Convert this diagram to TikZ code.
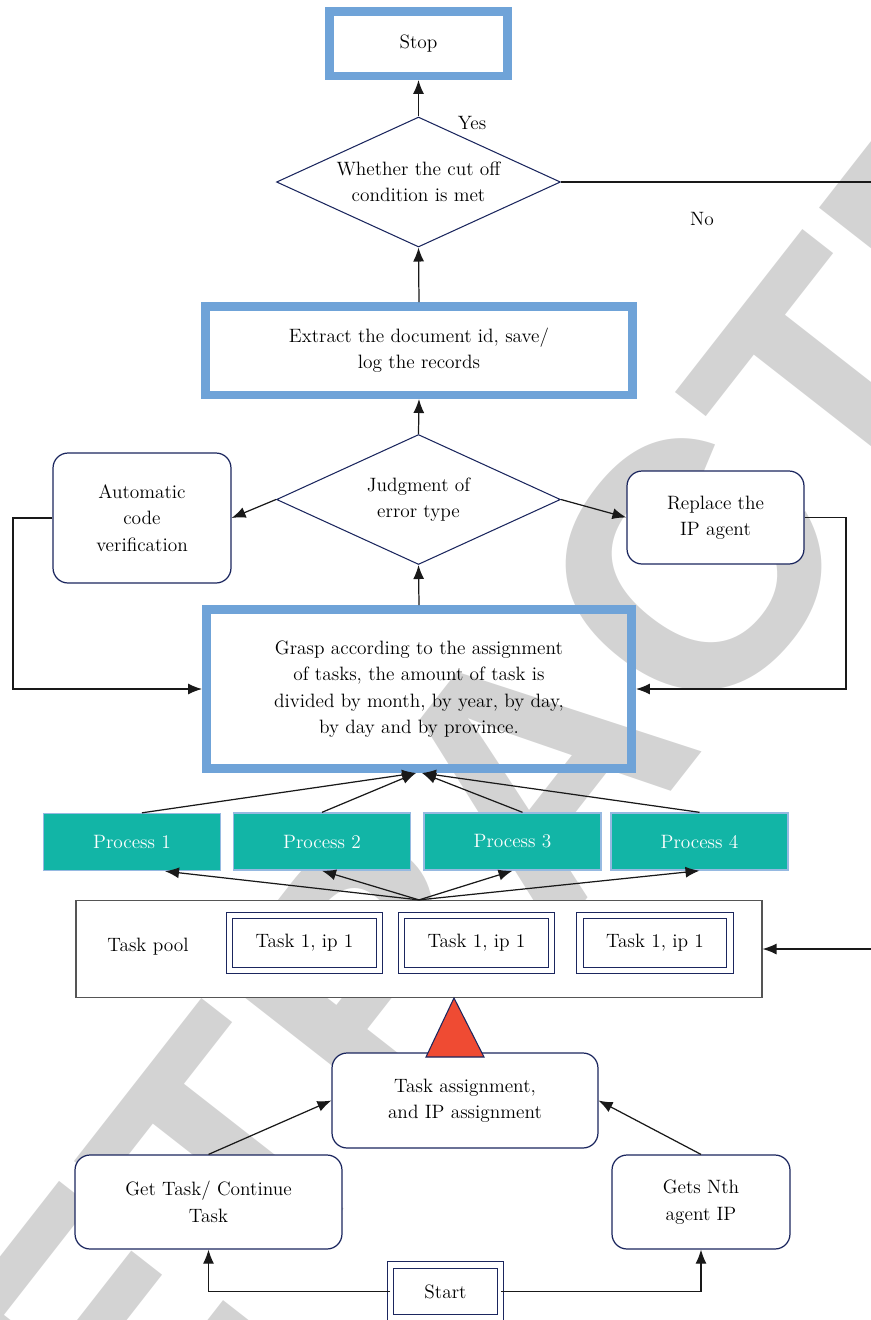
\documentclass[tikz,border=0pt]{standalone}
\usepackage{fontspec}
\newfontfamily\markfont{Liberation Sans}
\usetikzlibrary{shapes.geometric, arrows.meta, positioning, calc}

\definecolor{frameblue}{RGB}{111,163,216}
\definecolor{procteal}{RGB}{18,181,166}
\definecolor{procedge}{RGB}{150,185,225}
\definecolor{navy}{RGB}{27,38,94}
\definecolor{poolgray}{RGB}{85,85,85}
\definecolor{warnred}{RGB}{239,75,51}
\definecolor{markgray}{RGB}{211,211,211}

\begin{document}
\begin{tikzpicture}[
    x=0.02cm, y=-0.02cm,
    font=\fontsize{11}{15}\selectfont,
    bigbox/.style={rectangle, draw=frameblue, line width=0.17cm, align=center, inner sep=0pt},
    decision/.style={diamond, aspect=2.2, draw=navy, line width=0.6pt, align=center, inner sep=0pt, minimum width=5.68cm, minimum height=2.6cm},
    roundbox/.style={rectangle, draw=navy, fill=white, line width=0.7pt, rounded corners=0.3cm, align=center, inner sep=0pt},
    process/.style={rectangle, draw=procedge, fill=procteal, text=white, line width=0.8pt, minimum width=3.54cm, minimum height=1.14cm, inner sep=0pt},
    taskbox/.style={rectangle, draw=navy, double, double distance=0.11cm, line width=0.5pt, minimum width=3.0cm, minimum height=1.1cm, inner sep=0pt},
    line/.style={draw=black!90, -{Latex[length=0.28cm,width=0.22cm]}, line width=0.7pt}
]
\useasboundingbox (0,0) rectangle (871,1320);

% watermark
\node [rotate=52, text=markgray, font=\markfont\bfseries\fontsize{200}{200}\selectfont] (mark) at (534,770) {RETRACTED};

% top part
\node [bigbox, minimum width=3.57cm, minimum height=1.29cm] (stop) at (418.5,43.5) {Stop};
\node [decision] (cutoff) at (418.5,182) {Whether the cut off\\condition is met};
\node [bigbox, minimum width=8.55cm, minimum height=1.77cm] (extract) at (419,350.5) {Extract the document id, save/\\log the records};
\node [decision] (judge) at (418.5,499.5) {Judgment of\\error type};
\node [roundbox, minimum width=3.56cm, minimum height=2.6cm] (auto) at (142,518) {Automatic\\code\\verification};
\node [roundbox, minimum width=3.54cm, minimum height=1.86cm] (replace) at (715.5,517.5) {Replace the\\IP agent};
\node [bigbox, minimum width=8.51cm, minimum height=3.19cm] (grasp) at (419,689) {Grasp according to the assignment\\of tasks, the amount of task is\\divided by month, by year, by day,\\by day and by province.};

\node (yes) at (472,123) {Yes};
\node (no) at (702,219) {No};

% processes
\node [process] (p1) at (132,842) {Process 1};
\node [process] (p2) at (322,841.5) {Process 2};
\node [process] (p3) at (512.5,841.5) {Process 3};
\node [process] (p4) at (699.5,841.5) {Process 4};

% task pool
\node [rectangle, draw=poolgray, fill=white, line width=0.7pt, minimum width=13.72cm, minimum height=1.94cm] (pool) at (419,949) {};
\node (poollabel) at (148,947) {Task pool};
\node [taskbox] (t1) at (304.5,943) {Task 1, ip 1};
\node [taskbox] (t2) at (476.5,943) {Task 1, ip 1};
\node [taskbox] (t3) at (655,943) {Task 1, ip 1};

% bottom part
\node [roundbox, minimum width=5.32cm, minimum height=1.9cm] (assign) at (465,1100.5) {Task assignment,\\and IP assignment};
\draw [draw=navy, fill=warnred, line width=0.6pt] (454,998) -- (484,1057) -- (426,1057) -- cycle;
\node [roundbox, minimum width=5.34cm, minimum height=1.88cm] (gettask) at (208.5,1202) {Get Task/ Continue\\Task};
\node [roundbox, minimum width=3.56cm, minimum height=1.88cm] (nth) at (701,1202) {Gets Nth\\agent IP};
\node [taskbox, fill=white, minimum width=2.2cm, minimum height=1.06cm] (start) at (445.5,1291.5) {Start};

\coordinate (leftrail) at (13,518);
\coordinate (rightrail) at (846,517.5);
\coordinate (norail) at (882,500);
\coordinate (gl) at ($(grasp.south)+(-3,0)$);
\coordinate (gr) at ($(grasp.south)+(3,0)$);

\path [line] (cutoff.north) -- (stop.south);
\path [line] (extract.north) -- (cutoff.south);
\path [line] (judge.north) -- (extract.south);
\path [line] (grasp.north) -- (judge.south);
\path [line] (judge.west) -- (auto.east);
\path [line] (judge.east) -- (replace.west);
\path [line] (auto.west) -- (leftrail) |- (grasp.west);
\path [line] (replace.east) -- (rightrail) |- (grasp.east);
\path [line] (cutoff.east) -| (norail) |- (pool.east);

\path [line] ($(p1.north)+(10,0)$) -- (gl);
\path [line] (p2.north) -- (gl);
\path [line] ($(p3.north)+(10,0)$) -- (gr);
\path [line] (p4.north) -- (gr);

\path [line] (pool.north) -- ($(p1.south)+(33,0)$);
\path [line] (pool.north) -- (p2.south);
\path [line] (pool.north) -- (p3.south);
\path [line] (pool.north) -- (p4.south);

\path [line] (gettask.north) -- (assign.west);
\path [line] (nth.north) -- (assign.east);
\path [line] (start.west) -| (gettask.south);
\path [line] (start.east) -| (nth.south);
\end{tikzpicture}
\end{document}
